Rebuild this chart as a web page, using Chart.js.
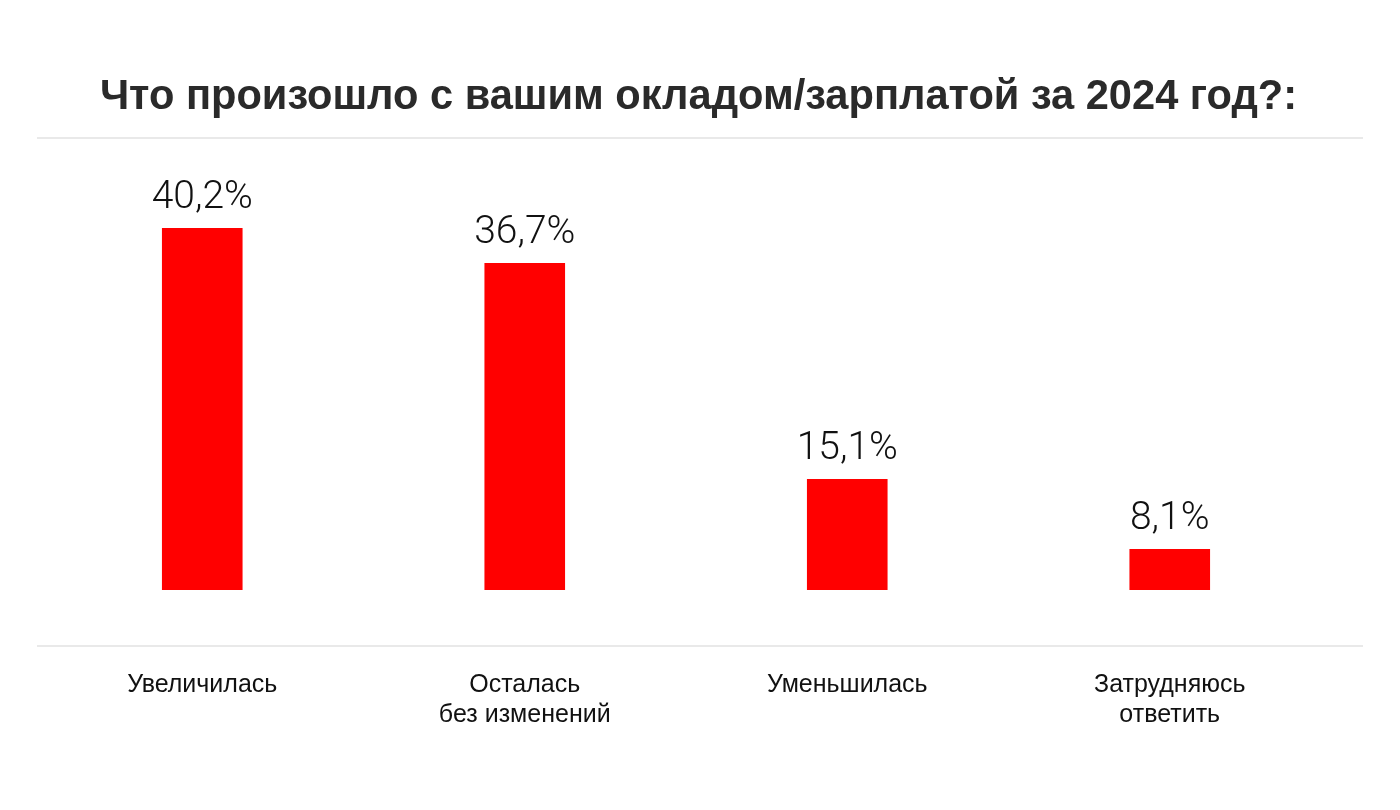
<!DOCTYPE html>
<html>
<head>
<meta charset="utf-8">
<script src="https://cdn.jsdelivr.net/npm/chart.js@4.4.1/dist/chart.umd.min.js"></script>
<style>
  html, body { margin: 0; padding: 0; background: #fff; }
  #wrap { width: 1400px; height: 810px; }
</style>
</head>
<body>
<div id="wrap"><canvas id="chart" width="1400" height="810"></canvas></div>
<script>
const titleText = 'Что произошло с вашим окладом/зарплатой за 2024 год?:';
const categories = [
  ['Увеличилась'],
  ['Осталась', 'без изменений'],
  ['Уменьшилась'],
  ['Затрудняюсь', 'ответить']
];
const values = [40.2, 36.7, 15.1, 8.1];

const fmt = v => v.toFixed(1).replace('.', ',') + '%';

// thin grey rules above and below the plot, plus value labels over bars
const decor = {
  id: 'decor',
  beforeDraw(chart) {
    const c = chart.ctx;
    c.save();
    c.strokeStyle = '#e2e2e2';
    c.lineWidth = 1.5;
    [138, 646].forEach(y => {
      c.beginPath();
      c.moveTo(37, y);
      c.lineTo(1363, y);
      c.stroke();
    });
    c.restore();
  },
  afterDatasetsDraw(chart) {
    const c = chart.ctx;
    const meta = chart.getDatasetMeta(0);
    c.save();
    c.fillStyle = '#111';
    c.font = '300 39px Roboto, "Liberation Sans", sans-serif';
    c.textAlign = 'center';
    c.textBaseline = 'alphabetic';
    meta.data.forEach((bar, i) => {
      c.fillText(fmt(values[i]), bar.x, bar.y - 20);
    });
    c.restore();
  }
};

new Chart(document.getElementById('chart'), {
  type: 'bar',
  data: {
    labels: categories,
    datasets: [{
      data: values,
      backgroundColor: '#ff0000',
      borderWidth: 0,
      barPercentage: 1,
      categoryPercentage: 0.25
    }]
  },
  options: {
    responsive: false,
    animation: false,
    events: [],
    layout: { padding: { left: 41, right: 44, top: 0, bottom: 0 } },
    plugins: {
      legend: { display: false },
      tooltip: { enabled: false },
      title: {
        display: true,
        text: titleText,
        color: '#2a2a2a',
        font: { family: '"Liberation Sans", Arial, sans-serif', size: 41.6, weight: 'bold' },
        padding: { top: 73, bottom: 27 }
      }
    },
    scales: {
      x: {
        grid: { display: false, drawTicks: false },
        border: { display: false },
        ticks: {
          color: '#111',
          padding: 80,
          font: { family: '"Liberation Sans", Arial, sans-serif', size: 25, lineHeight: 1.2 }
        }
      },
      y: {
        display: false,
        min: 4,
        max: 48
      },
      // empty spacer on the right so the plot ends where the reference does
      spacer: {
        type: 'linear',
        position: 'right',
        grid: { display: false },
        border: { display: false },
        ticks: { display: false },
        afterFit(scale) { scale.width = 25; }
      }
    }
  },
  plugins: [decor]
});
</script>
</body>
</html>
